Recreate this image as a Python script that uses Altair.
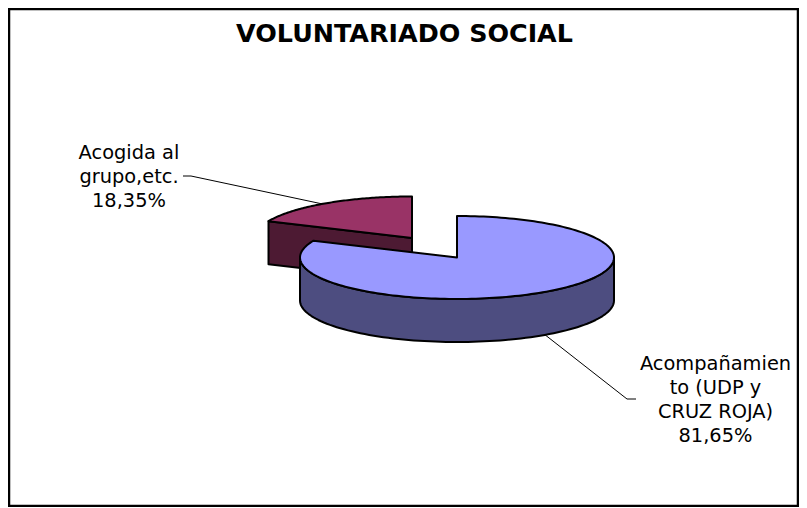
import math
import altair as alt
import pandas as pd

TITLE = "VOLUNTARIADO SOCIAL"
CATEGORIES = ["Acompañamien\nto (UDP y\nCRUZ ROJA)", "Acogida al\ngrupo,etc."]
VALUES = [81.65, 18.35]
PCT_LABELS = ["81,65%", "18,35%"]
TOP_COLORS = ["#9999FF", "#993366"]
SIDE_COLORS = ["#4D4D80", "#4D1A33"]

# Pie geometry, in picture pixels
RX, RY, DEPTH = 157, 41.5, 43
BLUE_C = (457, 257.5)
RED_C = (412, 238)
W, H = 789, 497
OX, OY = 9, 9  # page margin + padding

x_scale = alt.Scale(domain=[OX, OX + W], range=[0, W], nice=False, zero=False)
y_scale = alt.Scale(domain=[OY, OY + H], range=[0, H], nice=False, zero=False)


def rim(c, deg, drop=0):
    t = math.radians(deg)
    return (c[0] + RX * math.sin(t), c[1] - RY * math.cos(t) + drop)


def sweep(a, b, n=90):
    return [a + (b - a) * i / n for i in range(n + 1)]


def polygon(points, fill, width=2.0, closed=True):
    df = pd.DataFrame(points, columns=["x", "y"])
    df["i"] = range(len(df))
    if closed:
        mark = alt.Chart(df).mark_line(
            fill=fill, stroke="black", strokeWidth=width,
            strokeJoin="round", interpolate="linear-closed",
        )
    else:
        mark = alt.Chart(df).mark_line(stroke="black", strokeWidth=width)
    return mark.encode(
        x=alt.X("x:Q", scale=x_scale, axis=None),
        y=alt.Y("y:Q", scale=y_scale, axis=None),
        order="i:Q",
    )


blue_end = VALUES[0] / sum(VALUES) * 360
red_start = 360 - VALUES[1] / sum(VALUES) * 360

# Exploded slice: inner wall, then top
red_edge = rim(RED_C, red_start)
red_wall = [red_edge, RED_C, (RED_C[0], RED_C[1] + DEPTH), (red_edge[0], red_edge[1] + DEPTH)]
red_top = [RED_C] + [rim(RED_C, d) for d in sweep(red_start, 360)]

# Large slice: outer wall, then top
angles = sweep(90, 270)
blue_side = [rim(BLUE_C, d) for d in angles] + [rim(BLUE_C, d, DEPTH) for d in reversed(angles)]
blue_top = [BLUE_C] + [rim(BLUE_C, d) for d in sweep(0, blue_end, 180)]

labels = pd.DataFrame({
    "text": [CATEGORIES[1] + "\n" + PCT_LABELS[1], CATEGORIES[0] + "\n" + PCT_LABELS[0]],
    "x": [129, 715.5],
    "y": [159, 370],
})

label_layer = alt.Chart(labels).mark_text(
    font="DejaVu Sans", fontSize=19.4, color="black", align="center",
    baseline="alphabetic", lineBreak="\n", lineHeight=24,
).encode(
    x=alt.X("x:Q", scale=x_scale, axis=None),
    y=alt.Y("y:Q", scale=y_scale, axis=None),
    text="text:N",
)

leader1 = polygon([(183, 176), (191, 176), (325, 204.5)], None, 1, closed=False)
leader2 = polygon([(544, 334), (627, 399), (636, 399)], None, 1, closed=False)

chart = alt.layer(
    leader1,
    leader2,
    polygon(red_wall, SIDE_COLORS[1]),
    polygon(red_top, TOP_COLORS[1]),
    polygon(blue_side, SIDE_COLORS[0]),
    polygon(blue_top, TOP_COLORS[0]),
    label_layer,
).properties(
    width=W,
    height=H,
    padding={"left": 1, "top": 1, "right": 1, "bottom": 1},
    autosize=alt.AutoSizeParams(type="none"),
    background="white",
    title=alt.TitleParams(
        TITLE, font="DejaVu Sans", fontSize=25.4, fontWeight="bold", color="black",
        anchor="middle", frame="group", offset=0, dy=58, dx=1, baseline="alphabetic",
    ),
).configure_view(stroke="black", strokeWidth=2.5)

chart.save("out.html", embed_options={"renderer": "svg", "actions": False})
